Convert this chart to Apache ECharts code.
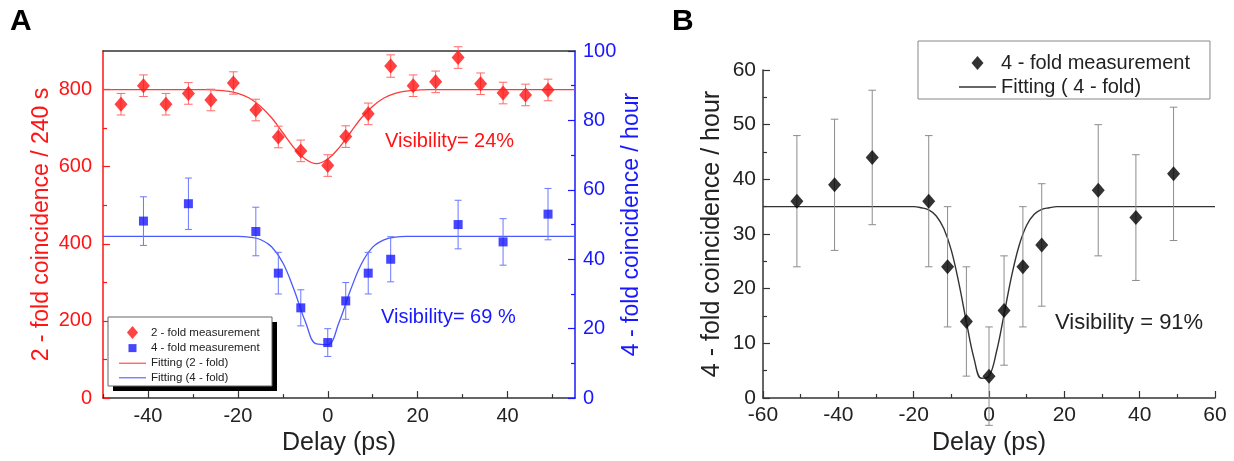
<!DOCTYPE html>
<html><head><meta charset="utf-8">
<script src="https://cdn.jsdelivr.net/npm/echarts@6/dist/echarts.min.js"></script>
<style>html,body{margin:0;padding:0;background:#fff}#c{width:1234px;height:461px}</style>
</head><body><div id="c"></div>
<script>
// ---------- Panel A data ----------
const delays2 = [-46,-41,-36,-31,-26,-21,-16,-11,-6,0,4,9,14,19,24,29,34,39,44,49];
const counts2 = [762,810,762,790,773,817,747,677,641,603,678,737,861,810,820,883,815,791,786,799];
const errs2   = [28,28,28,28,28,29,28,28,28,28,28,28,29,28,28,28,28,28,28,28];
const delays4 = [-41,-31,-16,-11,-6,0,4,9,14,29,39,49];
const counts4 = [51,56,48,36,26,16,28,36,40,50,45,53];
const errs4   = [7,7.4,7,6,5.2,4,5.3,6,6.5,7,6.7,7.4];
// fitted curves (delay in ps)
const fitXA = [-50,-47.5,-45,-42.5,-40,-37.5,-35,-32.5,-30,-27.5,-25,-22.5,-20,-17.5,-15,-12.5,-10,-7.5,-5,-2.5,0,2.5,5,7.5,10,12.5,15,17.5,20,22.5,25,27.5,30,32.5,35,37.5,40,42.5,45,47.5,50,52.5,55];
const fitY2 = [800,800,800,800,800,800,800,800,800,800,798.5,796,790,778,757,727,688,649,620,608,620,649,688,727,757,778,790,796,798.5,800,800,800,800,800,800,800,800,800,800,800,800,800,800];
const fitY4 = [46.6,46.6,46.6,46.6,46.6,46.6,46.6,46.6,46.6,46.6,46.6,46.6,46.6,46.4,45.7,43.6,39.0,31.2,22.1,15.6,15.4,21.8,30.9,38.7,43.5,45.6,46.4,46.6,46.6,46.6,46.6,46.6,46.6,46.6,46.6,46.6,46.6,46.6,46.6,46.6,46.6,46.6,46.6];
const xTicksA = [-40,-20,0,20,40];
const xMinorA = [-50,-30,-10,10,30,50];
const yTicksA = [0,200,400,600,800];
const yMinorA = [100,300,500,700];
const legendA = ['2 - fold measurement','4 - fold measurement','Fitting (2 - fold)','Fitting (4 - fold)'];

// ---------- Panel B data ----------
const delaysB = [-51,-41,-31,-16,-11,-6,0,4,9,14,29,39,49];
const countsB = [36,39,44,36,24,14,4,16,24,28,38,33,41];
const errsB   = [12,12,12.3,12,11,10,9,10,11,11.2,12,11.5,12.2];
const fitXB = [-60,-56,-52,-48,-44,-40,-36,-32,-28,-24,-22,-20,-18,-16,-14,-12,-10,-8,-6,-4,-2,0,2,4,6,8,10,12,14,16,18,20,24,28,32,36,40,44,48,52,56,60];
const fitYB = [35,35,35,35,35,35,35,35,35,35,35,35,34.8,34.4,33.3,31.0,27.0,21.0,13.9,7.3,3.6,4.0,8.5,15.3,22.3,27.9,31.6,33.6,34.5,34.8,35,35,35,35,35,35,35,35,35,35,35,35];
const legendB = ['B:4 - fold measurement','B:Fitting ( 4 - fold)'];

const FONT = 'Liberation Sans, Arial, sans-serif';
const RED = '#ff1414', BLUE = '#1818ff';
const ICON_DIAMOND = 'path://M6,0L12,7L6,14L0,7Z';
const ICON_SQUARE = 'path://M0,0M13,13M2.5,2.5H10.5V10.5H2.5Z';
const ICON_LINE = 'path://M0,0H100V4H0Z';

function zip(a, b) { return a.map((v, i) => [v, b[i]]); }
function errData(x, y, e) { return x.map((v, i) => [v, y[i] - e[i], y[i] + e[i]]); }
function errSeries(xi, yi, data, color, cap, w) {
  return {
    type: 'custom', xAxisIndex: xi, yAxisIndex: yi, data: data, z: 3, silent: true,
    encode: { x: 0, y: [1, 2] },
    renderItem: function (params, api) {
      const x = api.value(0), lo = api.value(1), hi = api.value(2);
      const p1 = api.coord([x, hi]), p2 = api.coord([x, lo]);
      const st = { stroke: color, lineWidth: w };
      return { type: 'group', children: [
        { type: 'line', shape: { x1: p1[0], y1: p1[1], x2: p2[0], y2: p2[1] }, style: st },
        { type: 'line', shape: { x1: p1[0] - cap, y1: p1[1], x2: p1[0] + cap, y2: p1[1] }, style: st },
        { type: 'line', shape: { x1: p2[0] - cap, y1: p2[1], x2: p2[0] + cap, y2: p2[1] }, style: st }
      ]};
    }
  };
}

const chart = echarts.init(document.getElementById('c'), null, { renderer: 'canvas' });
const option = {
  animation: false,
  backgroundColor: '#fff',
  textStyle: { fontFamily: FONT },
  grid: [
    { left: 103, right: 659, top: 51, bottom: 62 },
    { left: 763, right: 19, top: 70, bottom: 59 }
  ],
  xAxis: [
    { gridIndex: 0, type: 'value', min: -50, max: 55, position: 'bottom',
      axisLine: { show: true, onZero: false, lineStyle: { color: '#333', width: 1.5 } },
      axisTick: { show: true, inside: true, length: 7, customValues: xTicksA, lineStyle: { color: '#333', width: 1.2 } },
      axisLabel: { customValues: xTicksA, color: '#222', fontSize: 20, margin: 8, fontFamily: FONT },
      splitLine: { show: false },
      name: 'Delay (ps)', nameLocation: 'middle', nameGap: 29,
      nameTextStyle: { color: '#222', fontSize: 25, fontFamily: FONT } },
    { gridIndex: 0, type: 'value', min: -50, max: 55, position: 'bottom',
      axisLine: { show: false, onZero: false },
      axisTick: { show: true, inside: true, length: 4, customValues: xMinorA, lineStyle: { color: '#333', width: 1.2 } },
      axisLabel: { show: false }, splitLine: { show: false } },
    { gridIndex: 0, type: 'value', min: -50, max: 55, position: 'top',
      axisLine: { show: true, onZero: false, lineStyle: { color: '#333', width: 1.5 } },
      axisTick: { show: false }, axisLabel: { show: false }, splitLine: { show: false } },
    { gridIndex: 1, type: 'value', min: -60, max: 60, interval: 20, position: 'bottom',
      axisLine: { show: true, onZero: false, lineStyle: { color: '#333', width: 1.5 } },
      axisTick: { show: true, inside: true, length: 7, lineStyle: { color: '#333', width: 1.2 } },
      minorTick: { show: true, splitNumber: 2, length: 4, lineStyle: { color: '#333', width: 1.2 } },
      axisLabel: { color: '#222', fontSize: 21, margin: 7, fontFamily: FONT },
      splitLine: { show: false }, minorSplitLine: { show: false },
      name: 'Delay (ps)', nameLocation: 'middle', nameGap: 33,
      nameTextStyle: { color: '#222', fontSize: 25, fontFamily: FONT } }
  ],
  yAxis: [
    { gridIndex: 0, type: 'value', min: 0, max: 900, position: 'left',
      axisLine: { show: true, onZero: false, lineStyle: { color: RED, width: 1.5 } },
      axisTick: { show: true, inside: true, length: 7, customValues: yTicksA, lineStyle: { color: RED, width: 1.2 } },
      axisLabel: { customValues: yTicksA, color: RED, fontSize: 20, margin: 11, fontFamily: FONT },
      splitLine: { show: false },
      name: '2 - fold coincidence / 240 s', nameLocation: 'middle', nameGap: 50, nameRotate: 90,
      nameTextStyle: { color: RED, fontSize: 23, fontFamily: FONT } },
    { gridIndex: 0, type: 'value', min: 0, max: 900, position: 'left',
      axisLine: { show: false, onZero: false },
      axisTick: { show: true, inside: true, length: 4, customValues: yMinorA, lineStyle: { color: RED, width: 1.2 } },
      axisLabel: { show: false }, splitLine: { show: false } },
    { gridIndex: 0, type: 'value', min: 0, max: 100, interval: 20, position: 'right',
      axisLine: { show: true, onZero: false, lineStyle: { color: BLUE, width: 1.5 } },
      axisTick: { show: true, inside: true, length: 7, lineStyle: { color: BLUE, width: 1.2 } },
      minorTick: { show: true, splitNumber: 2, length: 4, lineStyle: { color: BLUE, width: 1.2 } },
      axisLabel: { color: BLUE, fontSize: 20, margin: 8, fontFamily: FONT },
      splitLine: { show: false }, minorSplitLine: { show: false },
      name: '4 - fold coincidence / hour', nameLocation: 'middle', nameGap: 43, nameRotate: 90,
      nameTextStyle: { color: BLUE, fontSize: 23, fontFamily: FONT } },
    { gridIndex: 1, type: 'value', min: 0, max: 60, interval: 10, position: 'left',
      axisLine: { show: true, onZero: false, lineStyle: { color: '#333', width: 1.5 } },
      axisTick: { show: true, inside: true, length: 7, lineStyle: { color: '#333', width: 1.2 } },
      minorTick: { show: true, splitNumber: 2, length: 4, lineStyle: { color: '#333', width: 1.2 } },
      axisLabel: { color: '#222', fontSize: 21, margin: 7, fontFamily: FONT },
      splitLine: { show: false }, minorSplitLine: { show: false },
      name: '4 - fold coincidence / hour', nameLocation: 'middle', nameGap: 38, nameRotate: 90,
      nameTextStyle: { color: '#222', fontSize: 25, fontFamily: FONT } }
  ],
  legend: [
    { data: [
        { name: legendA[0], icon: ICON_DIAMOND },
        { name: legendA[1], icon: ICON_SQUARE },
        { name: legendA[2], icon: ICON_LINE },
        { name: legendA[3], icon: ICON_LINE } ],
      orient: 'vertical', left: 108, top: 317, z: 10,
      itemWidth: 27, itemHeight: 13, itemGap: 2.6, symbolKeepAspect: true,
      padding: [9, 15, 3, 11],
      textStyle: { fontSize: 11.5, color: '#222', fontFamily: FONT },
      selectedMode: false },
    { data: [{ name: legendB[0], icon: ICON_DIAMOND }, { name: legendB[1], icon: ICON_LINE }],
      orient: 'vertical', left: 918, top: 41, z: 10,
      itemWidth: 37, itemHeight: 14, itemGap: 4, symbolKeepAspect: true,
      padding: [12, 20, 2, 41],
      backgroundColor: '#fff', borderColor: '#888', borderWidth: 1,
      formatter: n => n.replace('B:', ''),
      textStyle: { fontSize: 20, color: '#222', fontFamily: FONT },
      selectedMode: false }
  ],
  graphic: [
    { type: 'rect', z: 8, shape: { x: 113, y: 322, width: 164, height: 69 }, style: { fill: '#000' } },
    { type: 'rect', z: 9, shape: { x: 108, y: 317, width: 164, height: 69 }, style: { fill: '#fff', stroke: '#666', lineWidth: 1 } },
    { type: 'text', x: 10, y: 22, style: { text: 'A', font: 'bold 30px ' + FONT, fill: '#000', verticalAlign: 'middle' } },
    { type: 'text', x: 672, y: 22, style: { text: 'B', font: 'bold 30px ' + FONT, fill: '#000', verticalAlign: 'middle' } },
    { type: 'text', x: 385, y: 141, style: { text: 'Visibility= 24%', font: '20px ' + FONT, fill: RED, verticalAlign: 'middle' } },
    { type: 'text', x: 381, y: 317, style: { text: 'Visibility= 69 %', font: '20px ' + FONT, fill: BLUE, verticalAlign: 'middle' } },
    { type: 'text', x: 1055, y: 323, style: { text: 'Visibility = 91%', font: '22px ' + FONT, fill: '#222', verticalAlign: 'middle' } }
  ],
  series: [
    { name: legendA[2], type: 'line', xAxisIndex: 0, yAxisIndex: 0, data: zip(fitXA, fitY2),
      smooth: 0.4, symbol: 'none', z: 2,
      lineStyle: { color: '#ff3a3a', width: 1.3 }, itemStyle: { color: '#ff3a3a' } },
    { name: legendA[3], type: 'line', xAxisIndex: 0, yAxisIndex: 2, data: zip(fitXA, fitY4),
      smooth: 0.4, symbol: 'none', z: 2,
      lineStyle: { color: '#4a5aff', width: 1.3 }, itemStyle: { color: '#4a5aff' } },
    errSeries(0, 0, errData(delays2, counts2, errs2), '#ff6a6a', 4.3, 1),
    errSeries(0, 2, errData(delays4, counts4, errs4), '#6a78ff', 3.5, 1),
    { name: legendA[0], type: 'scatter', xAxisIndex: 0, yAxisIndex: 0, data: zip(delays2, counts2),
      symbol: 'diamond', symbolSize: [13, 15], z: 4, itemStyle: { color: RED } },
    { name: legendA[1], type: 'scatter', xAxisIndex: 0, yAxisIndex: 2, data: zip(delays4, counts4),
      symbol: 'rect', symbolSize: 9, z: 4, itemStyle: { color: BLUE } },
    { name: legendB[1], type: 'line', xAxisIndex: 3, yAxisIndex: 3, data: zip(fitXB, fitYB),
      smooth: 0.4, symbol: 'none', z: 2,
      lineStyle: { color: '#333', width: 1.4 }, itemStyle: { color: '#333' } },
    errSeries(3, 3, errData(delaysB, countsB, errsB), '#8c8c8c', 3.8, 1),
    { name: legendB[0], type: 'scatter', xAxisIndex: 3, yAxisIndex: 3, data: zip(delaysB, countsB),
      symbol: 'diamond', symbolSize: [13, 15], z: 4, itemStyle: { color: '#000' } }
  ]
};
chart.setOption(option);
</script>
</body></html>
